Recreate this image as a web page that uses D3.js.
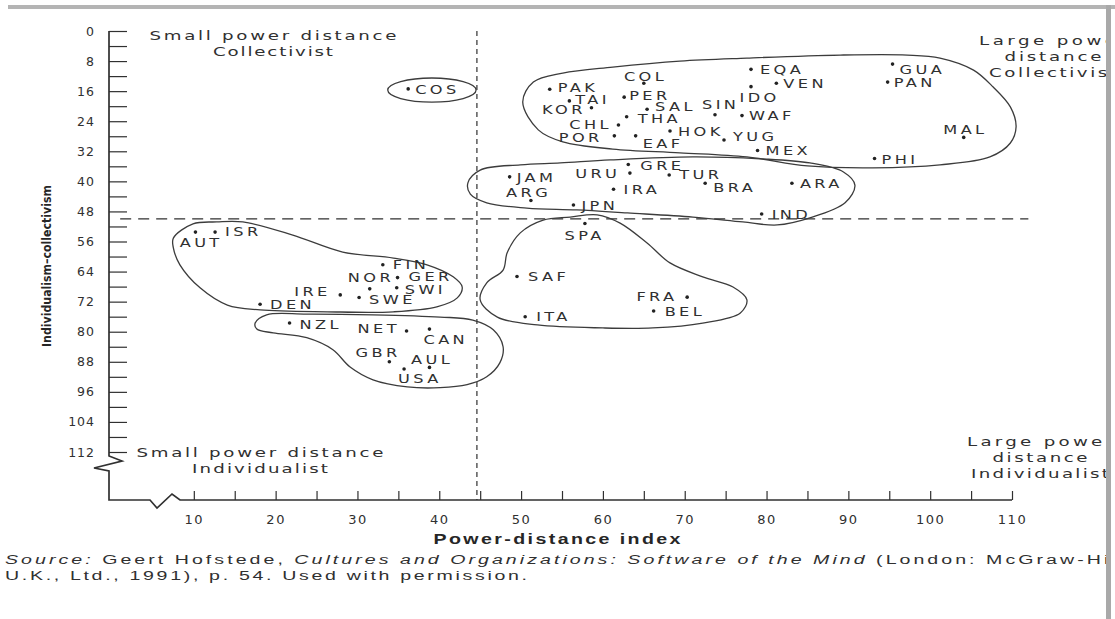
<!DOCTYPE html>
<html>
<head>
<meta charset="utf-8">
<script src="https://cdnjs.cloudflare.com/ajax/libs/d3/7.8.5/d3.min.js"></script>
<style>
  body { margin: 0; background: #fff; }
  svg { display: block; }
</style>
</head>
<body>
<div id="chart"></div>
<script>
// Country codes with power-distance (x) and individualism-collectivism (y) scores
const countries = ["PAK","COL","TAI","PER","KOR","SAL","SIN","THA","WAF","CHL","HOK","POR","EAF","YUG","MEX",
  "IDO","EQA","VEN","GUA","PAN","MAL","PHI","GRE","JAM","URU","TUR","BRA","ARA","IRA","ARG","JPN","IND","SPA",
  "AUT","ISR","FIN","GER","NOR","SWI","IRE","SWE","DEN","NZL","NET","CAN","GBR","AUL","USA","SAF","FRA","BEL","ITA","COS"];
const powerDistance = [53.5,65.0,55.9,62.6,58.6,65.4,73.7,62.9,77.0,61.9,68.2,61.4,64.0,74.8,78.9,
  78.1,78.1,81.2,95.4,94.8,104.1,93.2,63.1,48.6,63.3,68.1,72.5,83.1,61.3,51.2,56.4,79.4,57.8,
  10.2,12.6,33.1,34.9,31.5,34.8,27.9,30.2,18.1,21.7,36.0,38.8,33.9,38.8,35.7,49.5,70.3,66.2,50.5,36.2];
const individualism = [15.5,13.9,18.6,17.6,20.4,20.8,22.3,22.8,22.5,25.0,26.6,27.9,27.9,29.0,31.8,
  14.8,10.2,13.9,8.8,13.6,28.3,33.9,35.5,38.8,37.8,38.3,40.5,40.5,42.1,45.1,46.3,48.7,51.2,
  53.5,53.5,62.2,65.6,68.6,68.3,70.2,70.9,72.7,77.7,79.8,79.3,88.0,89.5,89.9,65.3,70.8,74.5,76.0,15.4];

// Axis ticks
const xTicks = [10,15,20,25,30,35,40,45,50,55,60,65,70,75,80,85,90,95,100,105,110];
const xTickLabels = [10,20,30,40,50,60,70,80,90,100,110];
const yTicks = [0,4,8,12,16,20,24,28,32,36,40,44,48,52,56,60,64,68,72,76,80,84,88,92,96,100,104,108,112];
const yTickLabels = [0,8,16,24,32,40,48,56,64,72,80,88,96,104,112];

// Dividing lines (power distance, individualism)
const pdiSplit = 44.6;
const idvSplit = 50;

// Cluster outlines traced in data units [pdi, idv]
const clusterUpper = [[50.2,18.9],[51.5,13.6],[55.1,11.2],[61.2,9.6],[69.4,8.0],[77.6,7.2],[89.0,6.4],[97.2,6.4],
  [101.2,7.2],[105.3,10.4],[107.7,14.9],[109.8,20.2],[110.5,25.5],[109.8,29.8],[107.3,33.5],[101.2,35.6],
  [93.0,36.4],[85.0,35.9],[77.6,33.5],[69.4,32.4],[61.2,31.4],[55.1,29.5],[52.1,26.3]];
const clusterMiddle = [[43.5,40.4],[45.0,37.0],[49.9,35.6],[54.8,35.1],[60.9,34.3],[71.0,33.5],[79.2,34.0],
  [85.3,35.1],[89.4,37.5],[90.8,41.0],[89.6,45.7],[85.3,49.7],[81.3,51.6],[77.1,50.8],[71.0,49.5],
  [63.0,48.4],[56.8,47.6],[50.7,47.1],[45.8,45.7],[43.8,43.4]];
const clusterNordic = [[7.5,55.1],[9.9,51.3],[12.8,50.8],[16.0,50.8],[22.1,54.3],[28.2,58.8],[34.4,60.4],
  [38.5,62.2],[41.7,65.4],[42.8,68.1],[42.2,71.0],[39.7,73.4],[34.4,74.7],[26.3,74.7],[18.1,74.2],
  [14.1,72.9],[10.8,68.4],[8.3,62.2],[7.5,57.7]];
const clusterAnglo = [[17.5,77.7],[18.9,75.5],[23.8,75.3],[31.9,75.5],[40.1,76.1],[44.1,76.9],[46.6,79.5],
  [47.8,84.0],[47.4,88.3],[45.8,92.0],[43.4,94.1],[40.1,94.9],[36.1,94.7],[31.9,92.8],[29.1,89.4],
  [27.0,84.8],[23.8,81.6],[19.7,80.3],[17.7,79.3]];
const clusterLatinEU = [[56.0,49.5],[59.3,48.9],[62.1,51.1],[65.4,56.4],[68.2,61.7],[72.2,65.4],[75.9,68.1],
  [77.6,71.5],[76.8,75.0],[72.2,77.7],[66.1,79.0],[60.0,79.0],[52.0,78.2],[47.1,76.1],[45.0,71.5],
  [45.8,67.0],[47.8,63.6],[48.3,59.0],[49.9,53.7],[52.7,50.3]];
const cosEllipse = { cx: 39.1, cy: 15.7, rx: 5.4, ry: 3.2 };

// Label placement: [anchor, dx, dy] relative to dot
const labelPlace = {
  PAK:["start",8,-2], COL:["middle",0,-7], TAI:["start",6,-1], PER:["start",5,-1], KOR:["end",-9,2],
  SAL:["start",8,-3], SIN:["middle",4,-10], THA:["start",11,2], WAF:["start",7,0], CHL:["end",-10,0],
  HOK:["start",8,1], POR:["end",-15,2], EAF:["start",7,8], YUG:["start",9,-3], MEX:["start",8,0],
  IDO:["middle",7,11], EQA:["start",9,0], VEN:["start",7,0], GUA:["start",7,6], PAN:["start",6,1],
  MAL:["middle",0,-8], PHI:["start",7,1], GRE:["start",12,1], JAM:["start",7,1], URU:["end",-13,1],
  TUR:["start",10,0], BRA:["start",8,4], ARA:["start",8,0], IRA:["start",10,0], ARG:["middle",-4,-8],
  JPN:["start",8,1], IND:["start",10,1], SPA:["middle",-2,12], AUT:["middle",4,11], ISR:["start",10,0],
  FIN:["start",10,0], GER:["start",11,-1], NOR:["end",21,-11], SWI:["start",8,2], IRE:["end",-13,-3],
  SWE:["start",10,2], DEN:["start",10,0], NZL:["start",10,2], NET:["end",-10,-2], CAN:["start",-6,11],
  GBR:["middle",-13,-9], AUL:["middle",1,-8], USA:["middle",14,10], SAF:["start",11,0], FRA:["end",-13,0],
  BEL:["start",11,1], ITA:["start",11,0], COS:["start",7,1]
};

const W = 1115, H = 619;
const ink = "#303030";
const stretch = 1.35;   // the printed type is set wide
const svg = d3.select("#chart").append("svg")
  .attr("width", W).attr("height", H)
  .style("background", "#fff");

// Scales
const x = d3.scaleLinear().domain([0, 110]).range([112, 1012]);
const y = d3.scaleLinear().domain([0, 112]).range([31, 452]);
const axisX = 109, baseY = 500;

// Y axis ticks (drawn to the right, labels on the left)
const yAxis = svg.append("g")
  .attr("transform", `translate(${axisX},0)`)
  .call(d3.axisLeft(y).tickValues(yTicks).tickSize(-18).tickPadding(14)
    .tickFormat(d => yTickLabels.includes(d) ? d : ""));
yAxis.select(".domain").remove();
yAxis.selectAll("line").attr("stroke", ink).attr("stroke-width", 1.2);
yAxis.selectAll("text").attr("fill", ink)
  .attr("font-family", "DejaVu Sans, sans-serif").attr("font-size", 12.5)
  .attr("letter-spacing", 1);

// X axis ticks (drawn upward)
const xAxis = svg.append("g")
  .attr("transform", `translate(0,${baseY})`)
  .call(d3.axisBottom(x).tickValues(xTicks).tickSize(-9).tickPadding(15)
    .tickFormat(d => xTickLabels.includes(d) ? d : ""));
xAxis.select(".domain").remove();
xAxis.selectAll("line").attr("stroke", ink).attr("stroke-width", 1.2);
xAxis.selectAll("text").attr("fill", ink)
  .attr("font-family", "DejaVu Sans, sans-serif").attr("font-size", 13)
  .attr("letter-spacing", 1.5);

// Axis lines with the break zigzags
const axisPath = d3.path();
axisPath.moveTo(axisX, y(0));
axisPath.lineTo(axisX, 456);
axisPath.lineTo(axisX + 13, 461);
axisPath.lineTo(axisX - 15, 468);
axisPath.lineTo(axisX, 471);
axisPath.lineTo(axisX, baseY);
axisPath.lineTo(150, baseY);
axisPath.lineTo(157, 508);
axisPath.lineTo(172, 494);
axisPath.lineTo(180, baseY);
axisPath.lineTo(x(110), baseY);
svg.append("path")
  .attr("d", axisPath.toString())
  .attr("fill", "none")
  .attr("stroke", ink)
  .attr("stroke-width", 1.7);

// Dashed dividers
svg.append("line")
  .attr("x1", x(pdiSplit)).attr("x2", x(pdiSplit))
  .attr("y1", y(0)).attr("y2", baseY)
  .attr("stroke", ink).attr("stroke-width", 1.2)
  .attr("stroke-dasharray", "5,4");
svg.append("line")
  .attr("x1", x(1)).attr("x2", x(112))
  .attr("y1", y(idvSplit)).attr("y2", y(idvSplit))
  .attr("stroke", ink).attr("stroke-width", 1.2)
  .attr("stroke-dasharray", "11,7");

// Cluster outlines
const outline = d3.line()
  .x(d => x(d[0]))
  .y(d => y(d[1]))
  .curve(d3.curveCatmullRomClosed.alpha(0.5));

[clusterUpper, clusterMiddle, clusterNordic, clusterAnglo, clusterLatinEU].forEach(c => {
  svg.append("path")
    .attr("d", outline(c))
    .attr("fill", "none")
    .attr("stroke", "#3c3c3c")
    .attr("stroke-width", 1.3);
});

svg.append("ellipse")
  .attr("cx", x(cosEllipse.cx))
  .attr("cy", y(cosEllipse.cy))
  .attr("rx", x(cosEllipse.rx) - x(0))
  .attr("ry", y(cosEllipse.ry) - y(0))
  .attr("fill", "none")
  .attr("stroke", "#3c3c3c")
  .attr("stroke-width", 1.3);

// Points
const pts = countries.map((c, i) => ({ code: c, pdi: powerDistance[i], idv: individualism[i] }));

svg.selectAll("circle.pt")
  .data(pts)
  .join("circle")
  .attr("class", "pt")
  .attr("cx", d => x(d.pdi))
  .attr("cy", d => y(d.idv))
  .attr("r", 1.8)
  .attr("fill", "#222");

const spacing = 2.5;
svg.selectAll("g.lbl")
  .data(pts)
  .join("g")
  .attr("class", "lbl")
  .attr("transform", d => {
    const p = labelPlace[d.code];
    const shift = p[0] === "end" ? spacing * stretch : p[0] === "middle" ? spacing * stretch / 2 : 0;
    return `translate(${x(d.pdi) + p[1] + shift},${y(d.idv) + p[2]}) scale(${stretch},1)`;
  })
  .append("text")
  .attr("dy", "0.36em")
  .attr("text-anchor", d => labelPlace[d.code][0])
  .attr("font-family", "DejaVu Sans, sans-serif")
  .attr("font-size", 12)
  .attr("letter-spacing", spacing)
  .attr("fill", ink)
  .text(d => d.code);

// Helper for wide-set text
function wideText(str, px, py, opts) {
  const g = svg.append("g").attr("transform", `translate(${px},${py}) scale(${opts.sx},1)`);
  const t = g.append("text")
    .attr("text-anchor", opts.anchor || "start")
    .attr("font-family", opts.family)
    .attr("font-size", opts.size)
    .attr("font-weight", opts.weight || "normal")
    .attr("fill", opts.fill || ink);
  if (opts.len) t.attr("textLength", opts.len / opts.sx).attr("lengthAdjust", "spacing");
  if (str !== null) t.text(str);
  return t;
}

// Quadrant captions
const qOpts = { sx: 1.4, family: "DejaVu Sans, sans-serif", size: 13, anchor: "middle" };
function caption(lines, cx, y0, lens) {
  lines.forEach((t, i) => wideText(t, cx, y0 + i * 16, Object.assign({}, qOpts, { len: lens[i] })));
}
caption(["Small power distance", "Collectivist"], 273, 40, [247, 120]);
caption(["Small power distance", "Individualist"], 260, 457, [247, 136]);
caption(["Large power", "distance", "Collectivist"], 1053, 45, [148, 97, 128]);
caption(["Large power", "distance", "Individualist"], 1040, 446, [146, 95, 138]);

// Axis titles
wideText("Power-distance index", 557, 544, {
  sx: 1.4, family: "Liberation Sans, Arial, sans-serif", size: 14, weight: "bold",
  anchor: "middle", len: 247, fill: "#262626"
});

svg.append("text")
  .attr("transform", "translate(51,266) rotate(-90)")
  .attr("text-anchor", "middle")
  .attr("font-family", "DejaVu Sans Condensed, DejaVu Sans, sans-serif")
  .attr("font-weight", "bold")
  .attr("font-size", 13)
  .attr("textLength", 162)
  .attr("lengthAdjust", "spacingAndGlyphs")
  .attr("fill", "#262626")
  .text("Individualism–collectivism");

// Source note
const srcOpts = { sx: 1.45, family: "Liberation Sans, Arial, sans-serif", size: 13.5 };
const src1 = wideText(null, 5, 564, Object.assign({}, srcOpts, { len: 1118 }));
src1.append("tspan").attr("font-style", "italic").text("Source:");
src1.append("tspan").text(" Geert Hofstede, ");
src1.append("tspan").attr("font-style", "italic").text("Cultures and Organizations: Software of the Mind");
src1.append("tspan").text(" (London: McGraw-Hill");
wideText("U.K., Ltd., 1991), p. 54. Used with permission.", 5, 580,
  Object.assign({}, srcOpts, { len: 522 }));

// Scan frame edges
svg.append("rect").attr("x", 1106).attr("y", 0).attr("width", 9).attr("height", H).attr("fill", "#fff");
svg.append("rect").attr("x", 8).attr("y", 5).attr("width", W - 8).attr("height", 4).attr("fill", "#b4b4b4");
svg.append("rect").attr("x", 1106).attr("y", 5).attr("width", 5).attr("height", H - 5).attr("fill", "#a9a9a9");
</script>
</body>
</html>
